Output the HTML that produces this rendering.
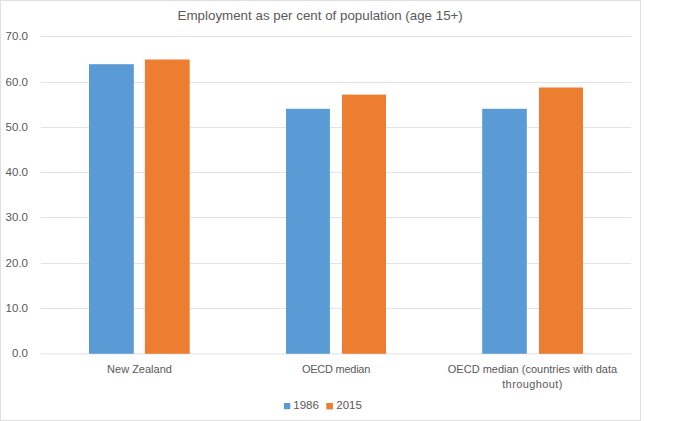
<!DOCTYPE html>
<html><head><meta charset="utf-8">
<style>
html,body{margin:0;padding:0;background:#fff;}
body{width:700px;height:421px;position:relative;overflow:hidden;font-family:"Liberation Sans",sans-serif;color:#595959;}
.frame{position:absolute;left:0;top:0;width:639px;height:419px;border:1px solid #e0e0e0;}
.t{position:absolute;white-space:nowrap;line-height:1;}
.yl{text-align:right;width:40px;}
.c{text-align:center;width:300px;}
svg{position:absolute;left:0;top:0;}
</style></head><body>
<div class="frame"></div>
<svg width="700" height="421" viewBox="0 0 700 421">
  <g fill="#e2e2e2">
    <rect x="41" y="36" width="590" height="1"/>
    <rect x="41" y="82" width="590" height="1"/>
    <rect x="41" y="127" width="590" height="1"/>
    <rect x="41" y="172" width="590" height="1"/>
    <rect x="41" y="217" width="590" height="1"/>
    <rect x="41" y="263" width="590" height="1"/>
    <rect x="41" y="308" width="590" height="1"/>
    <rect x="41" y="353.35" width="590" height="1"/>
  </g>
  <g fill="#5b9bd5">
    <rect x="89" y="64.2" width="44.8" height="289.6"/>
    <rect x="286" y="108.8" width="43.9" height="245"/>
    <rect x="482.2" y="108.8" width="44.6" height="245"/>
  </g>
  <g fill="#ed7d31">
    <rect x="144.9" y="59.5" width="44.8" height="294.3"/>
    <rect x="342" y="94.6" width="44" height="259.2"/>
    <rect x="539" y="87.5" width="44" height="266.3"/>
  </g>
  <rect x="283.9" y="403" width="6.4" height="6.2" fill="#5b9bd5"/>
  <rect x="326.3" y="403" width="6.6" height="6.4" fill="#ed7d31"/>
</svg>
<div class="t" style="left:177.6px;top:9px;font-size:13.35px;">Employment as per cent of population (age 15+)</div>
<div class="t yl" style="left:-12px;top:31px;font-size:11.5px;">70.0</div>
<div class="t yl" style="left:-12px;top:77px;font-size:11.5px;">60.0</div>
<div class="t yl" style="left:-12px;top:122px;font-size:11.5px;">50.0</div>
<div class="t yl" style="left:-12px;top:167px;font-size:11.5px;">40.0</div>
<div class="t yl" style="left:-12px;top:212px;font-size:11.5px;">30.0</div>
<div class="t yl" style="left:-12px;top:258px;font-size:11.5px;">20.0</div>
<div class="t yl" style="left:-12px;top:303px;font-size:11.5px;">10.0</div>
<div class="t yl" style="left:-12px;top:348px;font-size:11.5px;">0.0</div>
<div class="t c" style="left:-10.5px;top:364px;font-size:11px;">New Zealand</div>
<div class="t c" style="left:186px;top:364px;font-size:11px;letter-spacing:-0.25px">OECD median</div>
<div class="t c" style="left:382.5px;top:364px;font-size:11px;">OECD median (countries with data</div>
<div class="t c" style="left:382.5px;top:379px;font-size:11px;letter-spacing:0.4px">throughout)</div>
<div class="t" style="left:293.3px;top:400px;font-size:11.5px;">1986</div>
<div class="t" style="left:336.3px;top:400px;font-size:11.5px;">2015</div>
</body></html>
